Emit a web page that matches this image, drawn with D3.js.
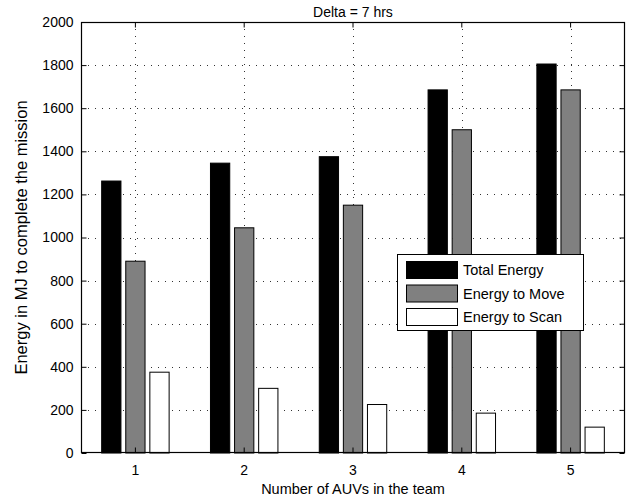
<!DOCTYPE html>
<html><head><meta charset="utf-8">
<script src="https://cdn.jsdelivr.net/npm/d3@7/dist/d3.min.js"></script>
<style>body{margin:0;background:#fff}svg text{font-family:"Liberation Sans",Arial,sans-serif;fill:#000}</style>
</head><body><svg id="c" width="633" height="499"></svg>
<script>
const categories = ["1","2","3","4","5"];
const seriesNames = ["Total Energy","Energy to Move","Energy to Scan"];
const totalEnergy = [1262,1345,1375,1685,1805];
const moveEnergy = [890,1045,1150,1500,1685];
const scanEnergy = [375,300,225,185,120];
const seriesColors = ["#000000","#808080","#ffffff"];
const yTicks = [0,200,400,600,800,1000,1200,1400,1600,1800,2000];
const title = "Delta = 7 hrs";
const xTitle = "Number of AUVs in the team";
const yTitle = "Energy in MJ to complete the mission";

const series = [totalEnergy, moveEnergy, scanEnergy];
const L=81, R=625, T=22, B=453;
const svg = d3.select("#c");
const x = d3.scaleBand().domain(categories).range([L,R]).paddingInner(0).paddingOuter(0);
const y = d3.scaleLinear().domain([0,2000]).range([B,T]);
const inner = d3.scaleBand().domain(d3.range(3)).range([-0.31,0.31]).paddingInner(0.2);

// grid
const g = svg.append("g");
yTicks.slice(1,-1).forEach(t=>{
  g.append("line").attr("x1",L).attr("x2",R).attr("y1",Math.round(y(t))+0.5).attr("y2",Math.round(y(t))+0.5)
   .attr("stroke","#000").attr("stroke-width",1).attr("stroke-dasharray","1,6").attr("opacity",0.8);
});
categories.forEach(c=>{
  const cx = Math.round(x(c)+x.bandwidth()/2)+0.5;
  g.append("line").attr("x1",cx).attr("x2",cx).attr("y1",T).attr("y2",B)
   .attr("stroke","#000").attr("stroke-width",1).attr("stroke-dasharray","1,6").attr("opacity",0.8);
});

// bars
const bw = x.bandwidth();
series.forEach((vals,si)=>{
  svg.append("g").selectAll("rect").data(vals).join("rect")
    .attr("x",(d,i)=>x(categories[i])+bw/2+inner(si)*bw)
    .attr("width",inner.bandwidth()*bw)
    .attr("y",d=>y(d)).attr("height",d=>B-y(d))
    .attr("fill",seriesColors[si]).attr("stroke","#000").attr("stroke-width",1);
});

// axes box
svg.append("rect").attr("x",L+0.5).attr("y",T+0.5).attr("width",R-L-1).attr("height",B-T-1)
  .attr("fill","none").attr("stroke","#000").attr("stroke-width",1.2);

const yAxis = d3.axisLeft(y).tickValues(yTicks).tickFormat(d3.format("d")).tickSizeInner(-5).tickSizeOuter(0).tickPadding(8);
const ya = svg.append("g").attr("transform",`translate(${L+0.5},0)`).call(yAxis);
ya.select(".domain").remove();
ya.attr("font-size",14).selectAll("text").attr("font-size",14).style("font-family","Liberation Sans, Arial, sans-serif");
const yaR = svg.append("g").attr("transform",`translate(${R-0.5},0)`).call(d3.axisRight(y).tickValues(yTicks).tickSizeInner(-5).tickSizeOuter(0).tickFormat(""));
yaR.select(".domain").remove();

const xAxis = d3.axisBottom(x).tickSizeInner(-5).tickSizeOuter(0).tickPadding(13);
const xa = svg.append("g").attr("transform",`translate(0,${B-0.5})`).call(xAxis);
xa.select(".domain").remove();
xa.attr("font-size",14).selectAll("text").attr("font-size",14).style("font-family","Liberation Sans, Arial, sans-serif");
const xaT = svg.append("g").attr("transform",`translate(0,${T+0.5})`).call(d3.axisTop(x).tickSizeInner(-5).tickSizeOuter(0).tickFormat(""));
xaT.select(".domain").remove();

// titles
svg.append("text").attr("x",(L+R)/2).attr("y",17).attr("text-anchor","middle").attr("font-size",14).text(title);
svg.append("text").attr("x",(L+R)/2).attr("y",494).attr("text-anchor","middle").attr("font-size",14.5).text(xTitle);
svg.append("text").attr("transform",`translate(27,${(T+B)/2}) rotate(-90)`).attr("text-anchor","middle").attr("font-size",16.5).text(yTitle);

// legend
const lg = svg.append("g");
lg.append("rect").attr("x",397.5).attr("y",254.5).attr("width",186).attr("height",76).attr("fill","#fff").attr("stroke","#000").attr("stroke-width",1);
seriesNames.forEach((n,i)=>{
  const yy = 261 + i*23.5;
  lg.append("rect").attr("x",406.5).attr("y",yy+0.5).attr("width",51).attr("height",17).attr("fill",seriesColors[i]).attr("stroke","#000").attr("stroke-width",1);
  lg.append("text").attr("x",463).attr("y",yy+14).attr("font-size",14.5).text(n);
});
</script></body></html>
